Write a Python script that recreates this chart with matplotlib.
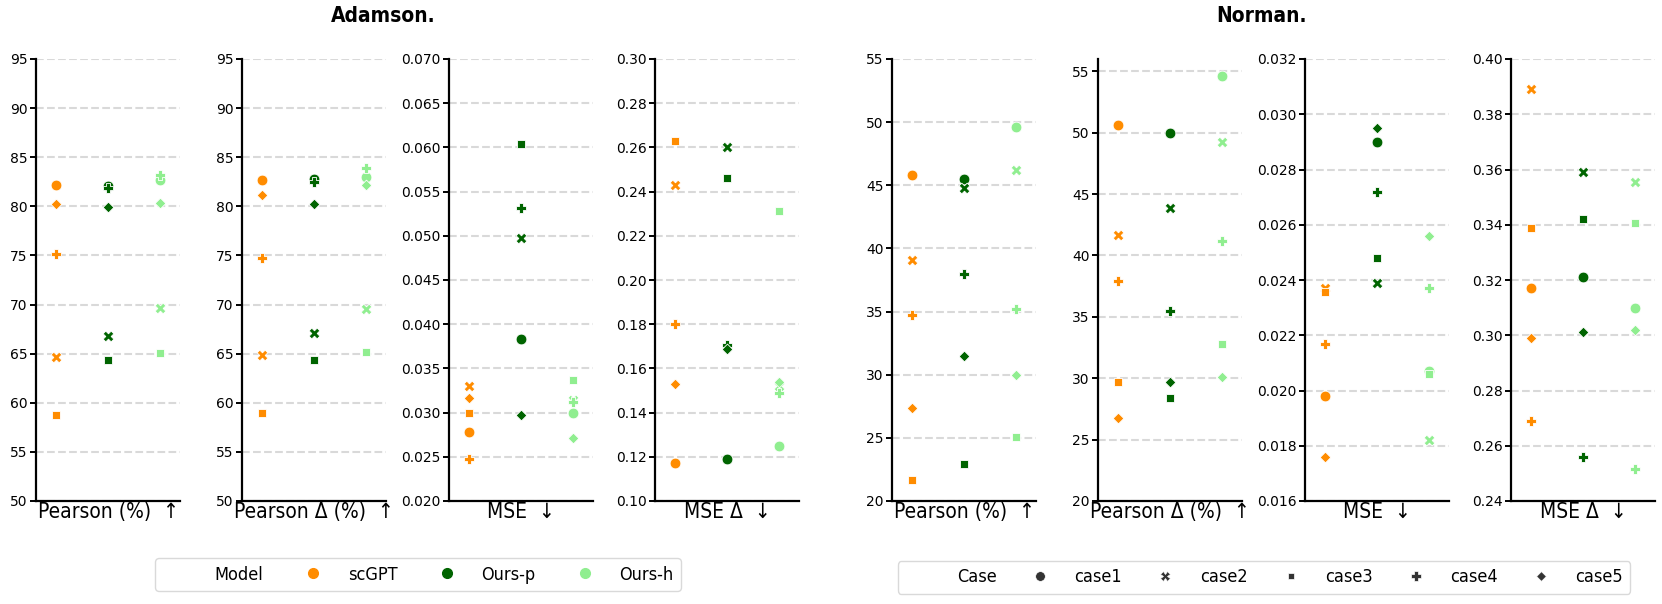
import numpy as np
import matplotlib
matplotlib.use("Agg")
import matplotlib.pyplot as plt
from matplotlib.lines import Line2D

models = ['scGPT', 'Ours-p', 'Ours-h']
cases = ['case1', 'case2', 'case3', 'case4', 'case5']
model_colors = ['darkorange', 'darkgreen', 'lightgreen']
case_markers = ['o', 'X', (4, 0, 45), 'P', (4, 0, 0)]

# rows: scGPT, Ours-p, Ours-h ; columns: case1..case5
adamson_pearson = [[82.2, 64.7, 58.8, 75.1, 80.2],
                   [82.1, 66.8, 64.4, 81.9, 79.9],
                   [82.7, 69.6, 65.1, 83.2, 80.3]]
adamson_pearson_delta = [[82.7, 64.9, 59.0, 74.7, 81.2],
                         [82.8, 67.1, 64.4, 82.5, 80.2],
                         [83.0, 69.5, 65.2, 83.9, 82.2]]
adamson_mse = [[0.0278, 0.0330, 0.0299, 0.0248, 0.0316],
               [0.0383, 0.0498, 0.0604, 0.0531, 0.0297],
               [0.0299, 0.0314, 0.0337, 0.0312, 0.0271]]
adamson_mse_delta = [[0.117, 0.243, 0.263, 0.180, 0.153],
                     [0.119, 0.260, 0.246, 0.1705, 0.169],
                     [0.125, 0.152, 0.231, 0.149, 0.154]]
norman_pearson = [[45.8, 39.1, 21.7, 34.7, 27.4],
                  [45.5, 44.8, 22.9, 38.0, 31.5],
                  [49.6, 46.2, 25.1, 35.2, 30.0]]
norman_pearson_delta = [[50.6, 41.7, 29.7, 37.9, 26.8],
                        [50.0, 43.9, 28.4, 35.5, 29.7],
                        [54.6, 49.2, 32.8, 41.2, 30.1]]
norman_mse = [[0.0198, 0.0237, 0.02355, 0.0217, 0.0176],
              [0.0290, 0.0239, 0.0248, 0.0272, 0.0295],
              [0.0207, 0.0182, 0.0206, 0.0237, 0.0256]]
norman_mse_delta = [[0.317, 0.389, 0.339, 0.269, 0.299],
                    [0.321, 0.359, 0.342, 0.256, 0.301],
                    [0.310, 0.3555, 0.3405, 0.2515, 0.302]]

metric_labels = ['Pearson (%)  ↑', 'Pearson Δ (%)  ↑', 'MSE  ↓', 'MSE Δ  ↓']

panels = [
    (adamson_pearson, (50, 95), np.arange(50, 96, 5), '%d'),
    (adamson_pearson_delta, (50, 95), np.arange(50, 96, 5), '%d'),
    (adamson_mse, (0.020, 0.070), np.arange(0.020, 0.0701, 0.005), '%.3f'),
    (adamson_mse_delta, (0.10, 0.30), np.arange(0.10, 0.301, 0.02), '%.2f'),
    (norman_pearson, (20, 55), np.arange(20, 56, 5), '%d'),
    (norman_pearson_delta, (20, 56), np.arange(20, 56, 5), '%d'),
    (norman_mse, (0.016, 0.032), np.arange(0.016, 0.0321, 0.002), '%.3f'),
    (norman_mse_delta, (0.24, 0.40), np.arange(0.24, 0.401, 0.02), '%.2f'),
]

W, H = 1662, 604
fig = plt.figure(figsize=(W / 100, H / 100), dpi=100)

lefts = [36, 242, 449, 655, 892, 1098, 1305, 1511]
ax_w, ax_top, ax_bot = 144, 59, 501

for k, (vals, ylim, ticks, fmt) in enumerate(panels):
    ax = fig.add_axes([lefts[k] / W, 1 - ax_bot / H, ax_w / W, (ax_bot - ax_top) / H])
    vals = np.array(vals)
    for c in range(len(cases)):
        for m in range(len(models)):
            ax.scatter(m, vals[m, c], marker=case_markers[c], color=model_colors[m],
                       s=60, edgecolor='white', linewidth=0.6, zorder=3)
    ax.set_xlim(-0.38, 2.38)
    ax.set_ylim(*ylim)
    ax.set_yticks(ticks)
    ax.set_yticklabels([fmt % t for t in ticks], fontsize=10)
    ax.set_xticks([])
    ax.yaxis.grid(True, linestyle='--', color='#d9d9d9', linewidth=1.5)
    ax.set_axisbelow(True)
    for s in ['top', 'right']:
        ax.spines[s].set_visible(False)
    for s in ['left', 'bottom']:
        ax.spines[s].set_linewidth(1.6)
    ax.tick_params(axis='y', length=4, width=1.4, pad=2)
    ax.set_xlabel(metric_labels[k % 4], fontsize=15, labelpad=1, fontstretch='condensed')

fig.text(383 / W, 1 - 16 / H, 'Adamson.', fontsize=15, fontweight='bold', fontstretch='condensed',
         ha='center', va='center')
fig.text(1262 / W, 1 - 16 / H, 'Norman.', fontsize=15, fontweight='bold', fontstretch='condensed',
         ha='center', va='center')

legend_font = dict(size=13, stretch='condensed')
blank = Line2D([], [], linestyle='none', marker=None)
model_handles = [blank] + [Line2D([], [], linestyle='none', marker='o', color=c, markersize=7)
                           for c in model_colors]
fig.legend(model_handles, ['Model'] + models, loc='center', ncol=4,
           bbox_to_anchor=(418 / W, 1 - 574.5 / H), prop=legend_font, columnspacing=1.75,
           handlelength=2.0, handletextpad=0.9, frameon=True, edgecolor='#d0d0d0')

case_handles = [blank] + [Line2D([], [], linestyle='none', marker=mk, color='#333333',
                                 markeredgecolor='white', markeredgewidth=0.5, markersize=7)
                          for mk in case_markers]
fig.legend(case_handles, ['Case'] + cases, loc='center', ncol=6,
           bbox_to_anchor=(1264 / W, 1 - 577.5 / H), prop=legend_font, columnspacing=1.4,
           handlelength=2.0, handletextpad=0.9, frameon=True, edgecolor='#d0d0d0')

fig.savefig('out.png', dpi=100)
